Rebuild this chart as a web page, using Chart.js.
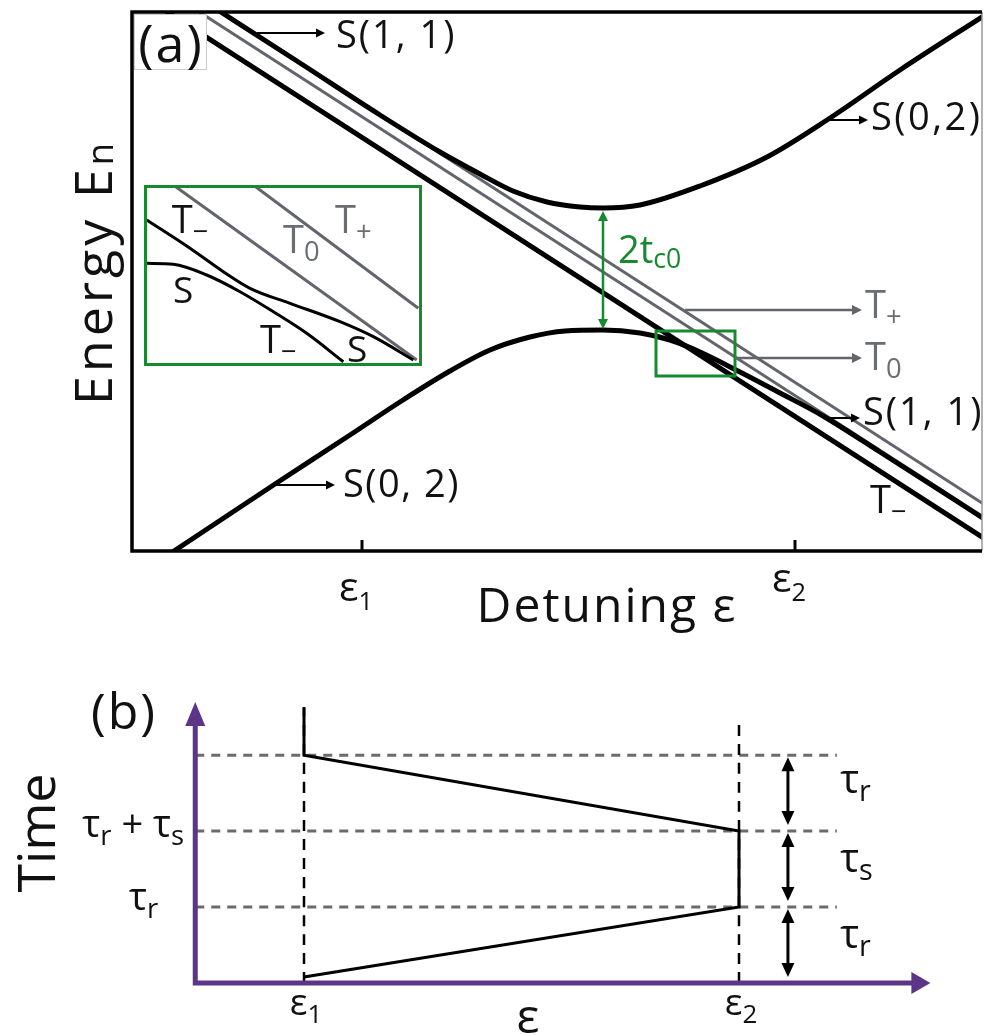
<!DOCTYPE html>
<html>
<head>
<meta charset="utf-8">
<script src="https://cdn.jsdelivr.net/npm/chart.js@4.4.0/dist/chart.umd.min.js"></script>
<style>
  body { margin: 0; background: #fff; }
  #wrap { position: relative; width: 984px; height: 1035px; }
  #chartA { position: absolute; left: 0; top: 0; }
  #inset { position: absolute; left: 144px; top: 185px; }
  #chartB { position: absolute; left: 0; top: 640px; }
</style>
</head>
<body>
<div id="wrap">
  <canvas id="chartA" width="984" height="640"></canvas>
  <canvas id="inset" width="278" height="181"></canvas>
  <canvas id="chartB" width="984" height="395"></canvas>
</div>
<script>
// ====== DATA: panel (a), energy levels vs detuning (arbitrary units) ======
const upperX = [78, 168, 248, 308, 348, 381, 415, 448, 471, 508, 568, 635, 695, 768, 853];
const upperE = [546, 488, 436, 399, 377, 360, 349, 344, 343, 346, 365, 394, 431, 481, 536];
const lowerX = [36, 140, 218, 271, 318, 358, 398, 433, 471, 508, 538, 568, 608, 648, 691, 748, 808, 853];
const lowerE = [-4, 65, 116, 151, 180, 201, 214, 220, 221, 218, 211, 199, 179, 158, 135, 99, 60.6, 31.6];
const tPlusX = [78, 853];
const tPlusE = [546, 46];
const tZeroX = [58, 853];
const tZeroE = [545, 33];
const tMinusX = [23, 853];
const tMinusE = [547, 12];
const epsTicks = [230, 663];
const epsTickSubs = ["1", "2"];

// inset (zoom of the green box)
const inAX = [2.7, 46, 79.3, 106, 146, 196, 229.3, 269.3];
const inAE = [146, 117.7, 94.3, 77.7, 62.7, 44.3, 29.3, 6];
const inBX = [2.7, 29.3, 62.7, 96, 129.3, 162.7, 199.3];
const inBE = [102.7, 101.7, 91, 74.3, 54.3, 32.7, 4.3];
const inT0X = [29.3, 272.7];
const inT0E = [181, 6];
const inTpX = [109.3, 274.3];
const inTpE = [181, 57.7];

// ====== DATA: panel (b), pulse sequence ======
const epsLevels = [1, 5];          // ε1, ε2
const epsTop = [3.63, 3.5];        // top of the vertical guide lines
const timeLevels = [1, 2, 3];      // τr, τr+τs, 2τr+τs
const pulseEps = [1, 5, 5, 1, 1];
const pulseTime = [0.08, 1, 2, 3, 3.63];
const guideEnd = 5.9;
const spanX = 5.45;

// ====== HELPERS ======
const FONT = '"Open Sans", "Noto Sans", sans-serif';
const GREEN = "#178a30";
const GRAY = "#62656b";
const PURPLE = "#5c3588";

function pts(xs, ys) { return xs.map((x, i) => ({ x: x, y: ys[i] })); }

// parts: [[text, isSub], ...], y is the baseline
function subText(ctx, x, y, parts, size, color, align, subRatio, subDrop, spacing) {
  subRatio = subRatio || 0.72;
  subDrop = subDrop === undefined ? 0.2 : subDrop;
  ctx.save();
  ctx.fillStyle = color;
  ctx.textBaseline = "alphabetic";
  ctx.textAlign = "left";
  if (spacing) ctx.letterSpacing = spacing + "px";
  let w = 0;
  parts.forEach(p => {
    ctx.font = (p[1] ? size * subRatio : size) + "px " + FONT;
    w += ctx.measureText(p[0]).width;
  });
  let cx = align === "center" ? x - w / 2 : align === "right" ? x - w : x;
  parts.forEach(p => {
    ctx.font = (p[1] ? size * subRatio : size) + "px " + FONT;
    ctx.fillText(p[0], cx, p[1] ? y + size * subDrop : y);
    cx += ctx.measureText(p[0]).width;
  });
  ctx.restore();
}

function arrow(ctx, x1, y1, x2, y2, color, lw, head, half, both) {
  ctx.save();
  ctx.strokeStyle = color;
  ctx.fillStyle = color;
  ctx.lineWidth = lw;
  const a = Math.atan2(y2 - y1, x2 - x1);
  const c = Math.cos(a), s = Math.sin(a);
  ctx.beginPath();
  ctx.moveTo(both ? x1 + c * head * 0.8 : x1, both ? y1 + s * head * 0.8 : y1);
  ctx.lineTo(x2 - c * head * 0.8, y2 - s * head * 0.8);
  ctx.stroke();
  const tip = (x, y, c, s) => {
    ctx.beginPath();
    ctx.moveTo(x, y);
    ctx.lineTo(x - head * c + half * s, y - head * s - half * c);
    ctx.lineTo(x - head * c - half * s, y - head * s + half * c);
    ctx.closePath();
    ctx.fill();
  };
  tip(x2, y2, c, s);
  if (both) tip(x1, y1, -c, -s);
  ctx.restore();
}

function lineSet(xs, ys, color, width, extra) {
  return Object.assign({
    data: pts(xs, ys),
    borderColor: color,
    borderWidth: width,
    pointRadius: 0,
    fill: false,
    clip: 0,
    cubicInterpolationMode: "monotone"
  }, extra || {});
}

// ====== PANEL (a) DECORATIONS ======
const panelA = {
  id: "panelA",
  afterDatasetsDraw(chart) {
    const ctx = chart.ctx;
    const xs = chart.scales.x, ys = chart.scales.y;
    const X = v => xs.getPixelForValue(v), Y = v => ys.getPixelForValue(v);
    const area = chart.chartArea;

    // small green box marking the zoomed region
    ctx.save();
    ctx.strokeStyle = GREEN;
    ctx.lineWidth = 3;
    ctx.strokeRect(X(524), Y(220), X(603) - X(524), Y(175) - Y(220));
    ctx.restore();

    // 2t_c0 gap arrow
    arrow(ctx, X(471), Y(340), X(471), Y(222), GREEN, 2.5, 10, 5, true);
    subText(ctx, X(486), 263, [["2t", 0], ["c0", 1]], 38, GREEN, "left", 0.7, 0.14);

    // level labels with arrows
    arrow(ctx, X(125), Y(518), X(193), Y(518), "#000", 2, 9, 4.5);
    subText(ctx, X(204), 48, [["S(1, 1)", 0]], 38, "#111", "left", 0, 0, 2);
    arrow(ctx, X(695), Y(431), X(736), Y(431), "#000", 2, 9, 4.5);
    subText(ctx, X(739), 130, [["S(0,2)", 0]], 38, "#111", "left", 0, 0, 2.5);
    arrow(ctx, X(553), Y(241), X(730), Y(241), GRAY, 2.5, 10, 5);
    subText(ctx, X(733), 318, [["T", 0], ["+", 1]], 38, "#6a6d72");
    arrow(ctx, X(603), Y(193), X(730), Y(193), GRAY, 2.5, 10, 5);
    subText(ctx, X(733), 370, [["T", 0], ["0", 1]], 38, "#6a6d72");
    arrow(ctx, X(691), Y(133), X(728), Y(133), "#000", 2, 9, 4.5);
    subText(ctx, X(731), 425, [["S(1, 1)", 0]], 38, "#111", "left", 0, 0, 2);
    subText(ctx, X(738), 513, [["T", 0], ["\u2212", 1]], 38, "#111");
    arrow(ctx, X(140), Y(66), X(203), Y(66), "#000", 2, 9, 4.5);
    subText(ctx, X(211), 497, [["S(0, 2)", 0]], 38, "#111", "left", 0, 0, 1.5);

    // frame
    ctx.save();
    ctx.strokeStyle = "#999";
    ctx.lineWidth = 1.5;
    ctx.beginPath();
    ctx.moveTo(area.right, area.top);
    ctx.lineTo(area.right, area.bottom);
    ctx.stroke();
    ctx.strokeStyle = "#000";
    ctx.lineWidth = 3.5;
    ctx.beginPath();
    ctx.moveTo(area.right, area.top);
    ctx.lineTo(area.left, area.top);
    ctx.lineTo(area.left, area.bottom);
    ctx.lineTo(area.right, area.bottom);
    ctx.stroke();
    // inward ticks
    ctx.lineWidth = 3;
    epsTicks.forEach(t => {
      ctx.beginPath();
      ctx.moveTo(X(t), area.bottom);
      ctx.lineTo(X(t), area.bottom - 11);
      ctx.stroke();
    });
    // (a) label box
    ctx.fillStyle = "#fff";
    ctx.fillRect(area.left + 2, area.top + 2, 73, 56);
    ctx.strokeStyle = "#ccc";
    ctx.lineWidth = 1;
    ctx.strokeRect(area.left + 2.5, area.top + 2.5, 72, 55);
    ctx.restore();
    subText(ctx, area.left + 39, 62, [["(a)", 0]], 52, "#111", "center", 0, 0, 2);

    // tick labels
    epsTicks.forEach((t, i) => {
      subText(ctx, X(t) - 6, i === 0 ? 601 : 592, [["\u03b5", 0], [epsTickSubs[i], 1]], 41, "#111", "center", 0.62, 0.22);
    });

    // axis titles
    subText(ctx, 607, 622, [["Detuning \u03b5", 0]], 48, "#111", "center", 0, 0, 2);
    ctx.save();
    ctx.translate(112, 272);
    ctx.rotate(-Math.PI / 2);
    subText(ctx, 0, 0, [["Energy E", 0], ["n", 1]], 52, "#111", "center", 0.7, 0.02, 4);
    ctx.restore();
  }
};

new Chart(document.getElementById("chartA"), {
  type: "line",
  data: {
    datasets: [
      lineSet(upperX, upperE, "#000", 5, { order: 0 }),
      lineSet(lowerX, lowerE, "#000", 5, { order: 0 }),
      lineSet(tMinusX, tMinusE, "#000", 5, { order: 0 }),
      lineSet(tPlusX, tPlusE, GRAY, 3, { order: 1 }),
      lineSet(tZeroX, tZeroE, GRAY, 3, { order: 1 })
    ]
  },
  options: {
    responsive: false,
    animation: false,
    layout: { padding: { left: 132, right: 2, top: 12, bottom: 89 } },
    scales: {
      x: { type: "linear", min: 0, max: 850, display: false },
      y: { type: "linear", min: 0, max: 539, display: false }
    },
    plugins: { legend: { display: false }, tooltip: { enabled: false } }
  },
  plugins: [panelA]
});

// ====== INSET ======
const insetDeco = {
  id: "insetDeco",
  beforeDraw(chart) {
    const ctx = chart.ctx;
    ctx.save();
    ctx.fillStyle = "#fff";
    ctx.fillRect(0, 0, chart.width, chart.height);
    ctx.restore();
  },
  afterDatasetsDraw(chart) {
    const ctx = chart.ctx;
    subText(ctx, 27.7, 48, [["T", 0], ["\u2212", 1]], 38, "#111");
    subText(ctx, 139, 68, [["T", 0], ["0", 1]], 38, "#6a6d72");
    subText(ctx, 191, 48, [["T", 0], ["+", 1]], 38, "#6a6d72");
    subText(ctx, 29, 118, [["S", 0]], 37, "#111");
    subText(ctx, 116, 168, [["T", 0], ["\u2212", 1]], 38, "#111");
    subText(ctx, 203, 177, [["S", 0]], 37, "#111");
    ctx.save();
    ctx.strokeStyle = GREEN;
    ctx.lineWidth = 3;
    ctx.strokeRect(1.5, 1.5, chart.width - 3, chart.height - 3);
    ctx.restore();
  }
};

new Chart(document.getElementById("inset"), {
  type: "line",
  data: {
    datasets: [
      lineSet(inAX, inAE, "#000", 3, { order: 0 }),
      lineSet(inBX, inBE, "#000", 3, { order: 0 }),
      lineSet(inT0X, inT0E, GRAY, 3, { order: 1 }),
      lineSet(inTpX, inTpE, GRAY, 3, { order: 1 })
    ]
  },
  options: {
    responsive: false,
    animation: false,
    layout: { padding: 0 },
    scales: {
      x: { type: "linear", min: 0, max: 278, display: false },
      y: { type: "linear", min: 0, max: 181, display: false }
    },
    plugins: { legend: { display: false }, tooltip: { enabled: false } }
  },
  plugins: [insetDeco]
});

// ====== PANEL (b) ======
const panelB = {
  id: "panelB",
  afterDatasetsDraw(chart) {
    const ctx = chart.ctx;
    const xs = chart.scales.x, ys = chart.scales.y;
    const X = v => xs.getPixelForValue(v), Y = v => ys.getPixelForValue(v);
    const area = chart.chartArea;
    const top = chart.canvas.offsetTop;

    // purple axes with arrow heads
    ctx.save();
    ctx.strokeStyle = PURPLE;
    ctx.fillStyle = PURPLE;
    ctx.lineWidth = 5;
    ctx.beginPath();
    ctx.moveTo(X(0), area.top + 20);
    ctx.lineTo(X(0), Y(0));
    ctx.lineTo(area.right - 16, Y(0));
    ctx.stroke();
    ctx.beginPath();
    ctx.moveTo(X(0), area.top);
    ctx.lineTo(X(0) - 10, area.top + 24);
    ctx.lineTo(X(0) + 10, area.top + 24);
    ctx.closePath();
    ctx.fill();
    ctx.beginPath();
    ctx.moveTo(area.right, Y(0));
    ctx.lineTo(area.right - 19, Y(0) - 11);
    ctx.lineTo(area.right - 19, Y(0) + 11);
    ctx.closePath();
    ctx.fill();
    ctx.restore();

    // spans on the right
    const lv = [0].concat(timeLevels);
    for (let i = 0; i < timeLevels.length; i++) {
      arrow(ctx, X(spanX), Y(lv[i]) - 6, X(spanX), Y(lv[i + 1]) + 2, "#000", 3, 14, 6.5, true);
    }
    subText(ctx, X(5.93), 793 - top, [["\u03c4", 0], ["r", 1]], 40, "#111");
    subText(ctx, X(5.93), 872 - top, [["\u03c4", 0], ["s", 1]], 40, "#111");
    subText(ctx, X(5.93), 948 - top, [["\u03c4", 0], ["r", 1]], 40, "#111");

    // time tick labels
    subText(ctx, 184, 837 - top, [["\u03c4", 0], ["r", 1], [" + \u03c4", 0], ["s", 1]], 38, "#111", "right");
    subText(ctx, 129, 910 - top, [["\u03c4", 0], ["r", 1]], 38, "#111");

    // detuning labels
    epsLevels.forEach((e, i) => {
      subText(ctx, X(e) + 2, 1015 - top, [["\u03b5", 0], [String(i + 1), 1]], 37, "#111", "center", 0.7, 0.22);
    });
    subText(ctx, 528, 1033 - top, [["\u03b5", 0]], 48, "#111", "center");
    subText(ctx, 124, 729 - top, [["(b)", 0]], 50, "#111", "center", 0, 0, 2);

    ctx.save();
    ctx.translate(55, 833 - top);
    ctx.rotate(-Math.PI / 2);
    subText(ctx, 0, 0, [["Time", 0]], 52, "#111", "center");
    ctx.restore();
  }
};

const guideSets = timeLevels.map(t =>
  lineSet([0, guideEnd], [t, t], "#6b6b6b", 3, { borderDash: [9, 7], order: 2, clip: false })
);
const epsSets = epsLevels.map((e, i) =>
  lineSet([e, e], [0, epsTop[i]], "#000", 2.5, { borderDash: [11, 8], order: 1, clip: false })
);

new Chart(document.getElementById("chartB"), {
  type: "line",
  data: {
    datasets: guideSets.concat(epsSets).concat([
      Object.assign(lineSet(pulseEps, pulseTime, "#000", 3, { order: 0, clip: false }), { cubicInterpolationMode: "default", tension: 0 })
    ])
  },
  options: {
    responsive: false,
    animation: false,
    layout: { padding: { left: 195.25, right: 53.6, top: 62, bottom: 52 } },
    scales: {
      x: { type: "linear", min: 0, max: 6.76, display: false },
      y: { type: "linear", min: 0, max: 3.7, display: false }
    },
    plugins: { legend: { display: false }, tooltip: { enabled: false } }
  },
  plugins: [panelB]
});
</script>
</body>
</html>
